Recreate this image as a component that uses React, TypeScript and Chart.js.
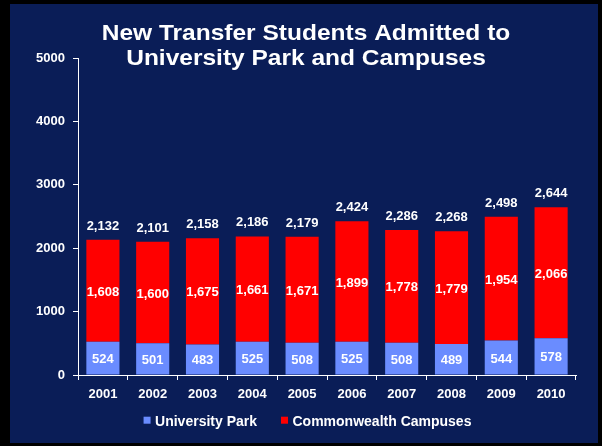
import React, { useEffect, useRef } from "react";
import { Chart, registerables } from "chart.js";

Chart.register(...registerables);

const years = ["2001", "2002", "2003", "2004", "2005", "2006", "2007", "2008", "2009", "2010"];
const universityPark = [524, 501, 483, 525, 508, 525, 508, 489, 544, 578];
const commonwealth = [1608, 1600, 1675, 1661, 1671, 1899, 1778, 1779, 1954, 2066];
const titleLines = ["New Transfer Students Admitted to", "University Park and Campuses"];
const yTicks = [0, 1000, 2000, 3000, 4000, 5000];

const NAVY = "#0a1d57";
const BLUE = "#6a8cff";
const RED = "#ff0000";
const FONT = "'Liberation Sans', Arial, sans-serif";

const fmt = (v: number) => v.toLocaleString("en-US");

const decorPlugin = {
  id: "decor",
  beforeDraw(chart: any) {
    const { ctx, width, height } = chart;
    ctx.save();
    ctx.fillStyle = "#000";
    ctx.fillRect(0, 0, width, height);
    ctx.fillStyle = NAVY;
    ctx.fillRect(10, 4, 588, 439);
    ctx.restore();
  },
  afterDraw(chart: any) {
    const { ctx } = chart;
    ctx.save();
    // title (slightly wide face, like the original)
    ctx.fillStyle = "#fff";
    ctx.font = `bold 21.5px ${FONT}`;
    ctx.textAlign = "center";
    ctx.textBaseline = "alphabetic";
    ctx.save();
    ctx.translate(306, 0);
    ctx.scale(1.14, 1);
    ctx.fillText(titleLines[0], 0, 39.5);
    ctx.fillText(titleLines[1], 0, 65);
    ctx.restore();

    // data labels
    ctx.font = `bold 13px ${FONT}`;
    const metas = chart.data.datasets.map((_: any, i: number) => chart.getDatasetMeta(i));
    metas.forEach((meta: any, di: number) => {
      meta.data.forEach((el: any, i: number) => {
        const v = chart.data.datasets[di].data[i];
        const props = el.getProps(["x", "y", "base"], true);
        const mid = (props.y + props.base) / 2;
        ctx.fillText(fmt(v), props.x, mid + 5);
      });
    });
    // totals
    const last = metas[metas.length - 1];
    last.data.forEach((el: any, i: number) => {
      const total = chart.data.datasets.reduce((s: number, d: any) => s + d.data[i], 0);
      const props = el.getProps(["x", "y"], true);
      ctx.fillText(fmt(total), props.x, props.y - 10);
    });

    // legend
    ctx.font = `bold 14px ${FONT}`;
    ctx.textAlign = "left";
    const box = 7, gap = 4.5, spacing = 24;
    const items = chart.data.datasets.map((d: any) => ({
      label: d.label,
      color: d.backgroundColor,
      w: ctx.measureText(d.label).width,
    }));
    const total = items.reduce((s: number, it: any) => s + box + gap + it.w, 0) + spacing * (items.length - 1);
    let x = 307.5 - total / 2;
    const cy = 421;
    items.forEach((it: any) => {
      ctx.fillStyle = it.color;
      ctx.fillRect(x, cy - 4.3, box, box);
      x += box + gap;
      ctx.fillStyle = "#fff";
      ctx.fillText(it.label, x, cy + 5);
      x += it.w + spacing;
    });
    ctx.restore();
  },
};

export default function App() {
  const ref = useRef<HTMLCanvasElement | null>(null);
  useEffect(() => {
    document.body.style.margin = "0";
    const canvas = ref.current!;
    const chart = new Chart(canvas, {
      type: "bar",
      data: {
        labels: years,
        datasets: [
          { label: "University Park", data: universityPark, backgroundColor: BLUE, borderWidth: 0 },
          { label: "Commonwealth Campuses", data: commonwealth, backgroundColor: RED, borderWidth: 0 },
        ],
      },
      options: {
        responsive: false,
        animation: false,
        devicePixelRatio: 1,
        layout: { padding: { left: 10, right: 26, top: 58, bottom: 31 } },
        datasets: { bar: { categoryPercentage: 1, barPercentage: 0.665 } },
        plugins: {
          legend: { display: false },
          title: { display: false },
          tooltip: { enabled: false },
        },
        scales: {
          x: {
            stacked: true,
            grid: { display: true, drawOnChartArea: false, drawTicks: true, tickLength: 5, color: "#fff", offset: true },
            border: { display: true, color: "#fff", width: 1 },
            ticks: { color: "#fff", font: { family: FONT, size: 13, weight: "bold" }, padding: 7, maxRotation: 0 },
            afterFit: (s: any) => { s.height = 40; },
          },
          y: {
            stacked: true,
            min: 0,
            max: 5000,
            afterBuildTicks: (s: any) => { s.ticks = yTicks.map((v) => ({ value: v })); },
            grid: { display: true, drawOnChartArea: false, drawTicks: true, tickLength: 5, color: "#fff" },
            border: { display: true, color: "#fff", width: 1 },
            ticks: { color: "#fff", font: { family: FONT, size: 13, weight: "bold" }, padding: 8, callback: (v: any) => String(v) },
            afterFit: (s: any) => { s.width = 68; },
          },
        },
      },
      plugins: [decorPlugin],
    });
    return () => chart.destroy();
  }, []);
  return (
    <div style={{ position: "absolute", left: 0, top: 0, width: 602, height: 446 }}>
      <canvas ref={ref} width={602} height={446} style={{ display: "block", width: 602, height: 446 }} />
    </div>
  );
}
